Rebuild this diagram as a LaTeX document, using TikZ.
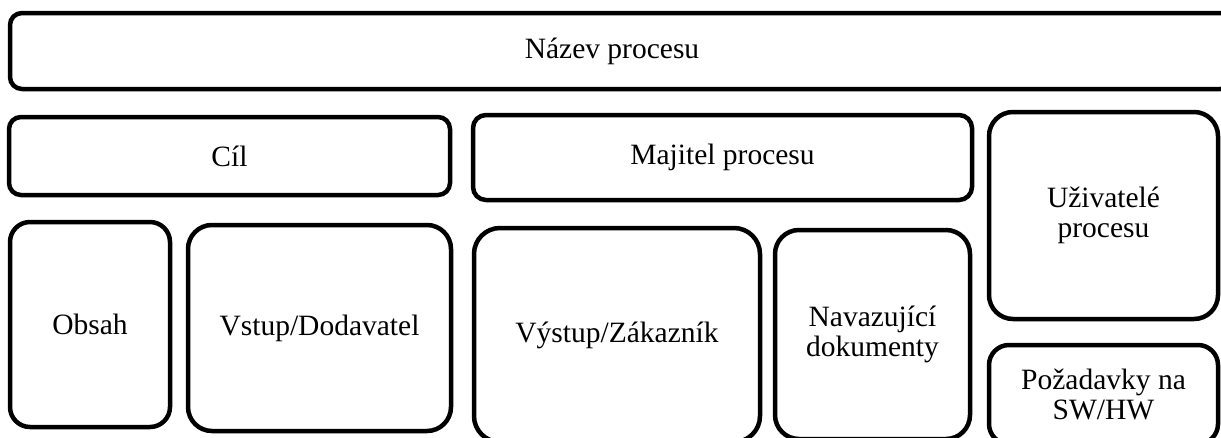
\documentclass[tikz,border=0pt]{standalone}
\usepackage{fontspec}
\setmainfont{Liberation Serif}
\begin{document}
\begin{tikzpicture}[x=1pt,y=-1pt,
  box/.style={draw=black, line width=4.5pt, rounded corners=#1, rectangle,
    inner sep=0pt, align=center, font=\fontsize{29.5}{30}\selectfont},
  box/.default=12pt,
  label text/.style={inner sep=0pt, align=center, font=\fontsize{29.5}{30}\selectfont}]
\useasboundingbox (0,0) rectangle (1221,437);

% header bar running off the right edge
\node[box=12pt, minimum width=1222pt, minimum height=76pt] (title) at (621,51) {};
\node[label text] (titletext) at (612,51) {Název procesu};

% second row
\node[box=12pt, minimum width=441pt, minimum height=78pt] (cil) at (229.5,156) {Cíl};
\node[box=13pt, minimum width=499pt, minimum height=85pt] (majitel) at (722.5,157.5) {Majitel procesu};
\node[box=24pt, minimum width=229pt, minimum height=207pt] (uzivatele) at (1103.5,215.5) {Uživatelé\\procesu};

% bottom row, cut off by the lower edge
\node[box=20pt, minimum width=160pt, minimum height=205pt] (obsah) at (90,324.5) {Obsah};
\node[box=24pt, minimum width=263pt, minimum height=206pt] (vstup) at (319.5,328) {Vstup/Dodavatel};
\node[box=26pt, minimum width=286pt, minimum height=214pt] (vystup) at (617,335) {Výstup/Zákazník};
\node[box=24pt, minimum width=195pt, minimum height=209pt] (navazujici) at (872.5,334.5) {Navazující\\dokumenty};
\node[box=20pt, minimum width=229pt, minimum height=99pt] (pozadavky) at (1103.5,394.5) {Požadavky na\\SW/HW};
\end{tikzpicture}
\end{document}
